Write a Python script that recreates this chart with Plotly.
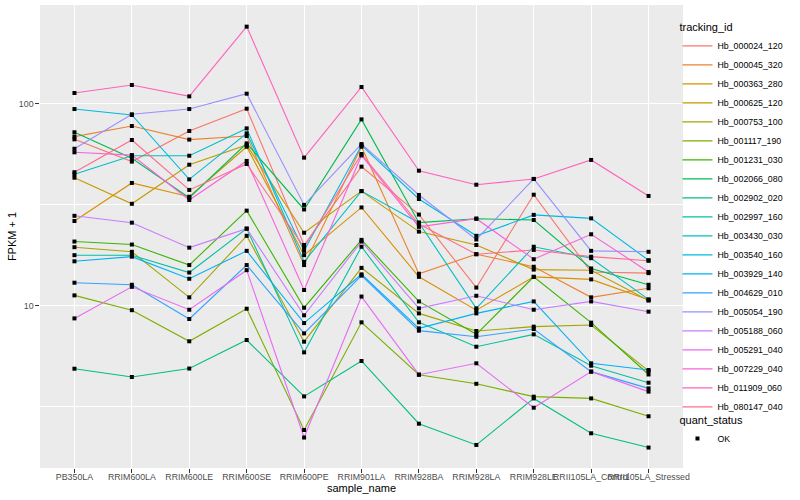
import plotly.graph_objects as go

samples = ["PB350LA", "RRIM600LA", "RRIM600LE", "RRIM600SE", "RRIM600PE", "RRIM901LA",
           "RRIM928BA", "RRIM928LA", "RRIM928LE", "RRII105LA_Control", "RRII105LA_Stressed"]

tracking_ids = ["Hb_000024_120", "Hb_000045_320", "Hb_000363_280", "Hb_000625_120",
                "Hb_000753_100", "Hb_001117_190", "Hb_001231_030", "Hb_002066_080",
                "Hb_002902_020", "Hb_002997_160", "Hb_003430_030", "Hb_003540_160",
                "Hb_003929_140", "Hb_004629_010", "Hb_005054_190", "Hb_005188_060",
                "Hb_005291_040", "Hb_007229_040", "Hb_011909_060", "Hb_080147_040"]

colors = ["#F8766D", "#EA8331", "#D89000", "#C09B00", "#A3A500", "#7CAE00", "#39B600",
          "#00BB4E", "#00BF7D", "#00C1A3", "#00BFC4", "#00BAE0", "#00B0F6", "#35A2FF",
          "#9590FF", "#C77CFF", "#E76BF3", "#FA62DB", "#FF62BC", "#FF6C90"]

# FPKM + 1 per sample
Hb_000024_120 = [66.8, 51.8, 73.5, 94.8, 20.0, 48.9, 28.3, 12.3, 35.5, 14.7, 14.5]
Hb_000045_320 = [68.9, 77.8, 66.6, 69.4, 15.9, 61.4, 14.4, 18.0, 15.6, 11.0, 12.2]
Hb_000363_280 = [26.3, 40.6, 34.7, 61.4, 17.8, 30.7, 13.9, 9.5, 13.9, 13.5, 10.7]
Hb_000625_120 = [43.1, 32.0, 50.0, 62.6, 23.0, 37.0, 23.3, 20.0, 15.1, 15.0, 10.6]
Hb_000753_100 = [19.5, 18.5, 11.0, 22.2, 6.63, 15.4, 9.16, 7.49, 7.87, 8.02, 4.75]
Hb_001117_190 = [11.25, 9.5, 6.66, 9.66, 2.42, 8.27, 4.55, 4.10, 3.54, 3.47, 2.83]
Hb_001231_030 = [20.8, 20.1, 15.9, 29.6, 9.77, 21.2, 10.5, 7.21, 13.9, 8.24, 4.56]
Hb_002066_080 = [72.4, 53.8, 34.3, 63.8, 30.0, 83.9, 25.8, 27.0, 26.6, 15.3, 12.7]
Hb_002902_020 = [4.87, 4.43, 4.88, 6.76, 3.55, 5.32, 2.60, 2.04, 3.47, 2.33, 1.98]
Hb_002997_160 = [17.8, 17.8, 14.6, 24.1, 5.87, 19.6, 8.27, 6.26, 7.21, 5.04, 4.15]
Hb_003430_030 = [44.8, 55.4, 55.4, 75.7, 16.5, 37.0, 25.8, 9.70, 19.6, 17.2, 10.75]
Hb_003540_160 = [94.4, 88.2, 42.3, 71.5, 18.7, 62.4, 33.8, 22.2, 28.2, 27.1, 16.8]
Hb_003929_140 = [16.6, 17.5, 13.6, 18.7, 8.20, 14.3, 7.72, 9.16, 10.5, 5.18, 4.80]
Hb_004629_010 = [13.0, 12.7, 8.59, 15.9, 7.29, 14.1, 7.52, 7.02, 7.66, 4.71, 3.89]
Hb_005054_190 = [60.0, 88.9, 94.4, 112.5, 31.6, 63.3, 35.4, 21.3, 42.5, 18.7, 18.5]
Hb_005188_060 = [27.9, 25.8, 19.4, 24.1, 8.96, 20.8, 9.70, 11.2, 9.55, 10.5, 9.34]
Hb_005291_040 = [8.65, 12.4, 9.55, 15.0, 2.22, 11.1, 4.55, 5.18, 3.12, 4.71, 3.75]
Hb_007229_040 = [57.6, 55.8, 33.4, 52.2, 11.96, 55.6, 24.6, 27.0, 17.0, 22.6, 14.7]
Hb_011909_060 = [113.4, 124.2, 109.1, 241.8, 54.2, 121.4, 46.7, 39.8, 42.5, 52.8, 35.0]
Hb_080147_040 = [45.9, 66.3, 37.5, 50.4, 19.5, 56.5, 25.4, 18.0, 18.9, 17.5, 16.7]

series = [Hb_000024_120, Hb_000045_320, Hb_000363_280, Hb_000625_120, Hb_000753_100,
          Hb_001117_190, Hb_001231_030, Hb_002066_080, Hb_002902_020, Hb_002997_160,
          Hb_003430_030, Hb_003540_160, Hb_003929_140, Hb_004629_010, Hb_005054_190,
          Hb_005188_060, Hb_005291_040, Hb_007229_040, Hb_011909_060, Hb_080147_040]

quant_status = "OK"
y_ticks = [10, 100]
y_tick_labels = ["10", "100"]
y_minor = [10 ** 0.5, 10 ** 1.5]

FONT = "Liberation Sans, Arial, Helvetica, sans-serif"

fig = go.Figure()
for name, vals, col in zip(tracking_ids, series, colors):
    fig.add_trace(go.Scatter(x=samples, y=vals, mode="lines", name=name,
                             line=dict(color=col, width=1.1), legend="legend"))

xs = [s for _ in series for s in samples]
ys = [v for vals in series for v in vals]
fig.add_trace(go.Scatter(x=xs, y=ys, mode="markers", name=quant_status,
                         marker=dict(symbol="square", size=4, color="black"),
                         legend="legend2"))

fig.update_layout(
    width=800, height=500,
    margin=dict(l=40, r=117, t=5, b=32),
    paper_bgcolor="white", plot_bgcolor="#EBEBEB",
    font=dict(family=FONT, size=9, color="#4D4D4D"),
    showlegend=True,
    xaxis=dict(type="category", categoryorder="array", categoryarray=samples,
               range=[-0.6, len(samples) - 0.4], tickangle=0,
               showgrid=True, gridcolor="white", gridwidth=1.1,
               ticks="outside", ticklen=3.7, tickwidth=1.07, tickcolor="#333333",
               tickfont=dict(family=FONT, size=8.8, color="#4D4D4D"),
               ticklabelstandoff=-3,
               zeroline=False, showline=False, automargin=False,
               title=dict(text="sample_name", font=dict(family=FONT, size=11, color="black"),
                          standoff=0)),
    yaxis=dict(type="log", range=[0.1953, 2.4908],
               tickmode="array", tickvals=y_ticks, ticktext=y_tick_labels,
               showgrid=True, gridcolor="white", gridwidth=1.1,
               ticks="outside", ticklen=3.7, tickwidth=1.07, tickcolor="#333333",
               tickfont=dict(family=FONT, size=8.8, color="#4D4D4D"),
               minor=dict(tickmode="array", tickvals=y_minor, showgrid=True,
                          gridcolor="white", gridwidth=0.55, ticks=""),
               zeroline=False, showline=False, automargin=False,
               title=dict(text="FPKM + 1", font=dict(family=FONT, size=11, color="black"),
                          standoff=0)),
    legend=dict(title=dict(text="tracking_id", font=dict(family=FONT, size=11, color="black")),
                x=0.9914, xanchor="left", y=0.974, yanchor="top",
                font=dict(family=FONT, size=8.8, color="black"),
                bgcolor="rgba(0,0,0,0)", borderwidth=0, tracegroupgap=0, itemwidth=30),
    legend2=dict(title=dict(text="quant_status", font=dict(family=FONT, size=11, color="black")),
                 x=0.9914, xanchor="left", y=0.126, yanchor="top",
                 font=dict(family=FONT, size=8.8, color="black"),
                 bgcolor="rgba(0,0,0,0)", borderwidth=0, itemwidth=30),
)

fig.write_html("out.html", config={"displayModeBar": False},
               post_script="document.body.style.margin='0';")
